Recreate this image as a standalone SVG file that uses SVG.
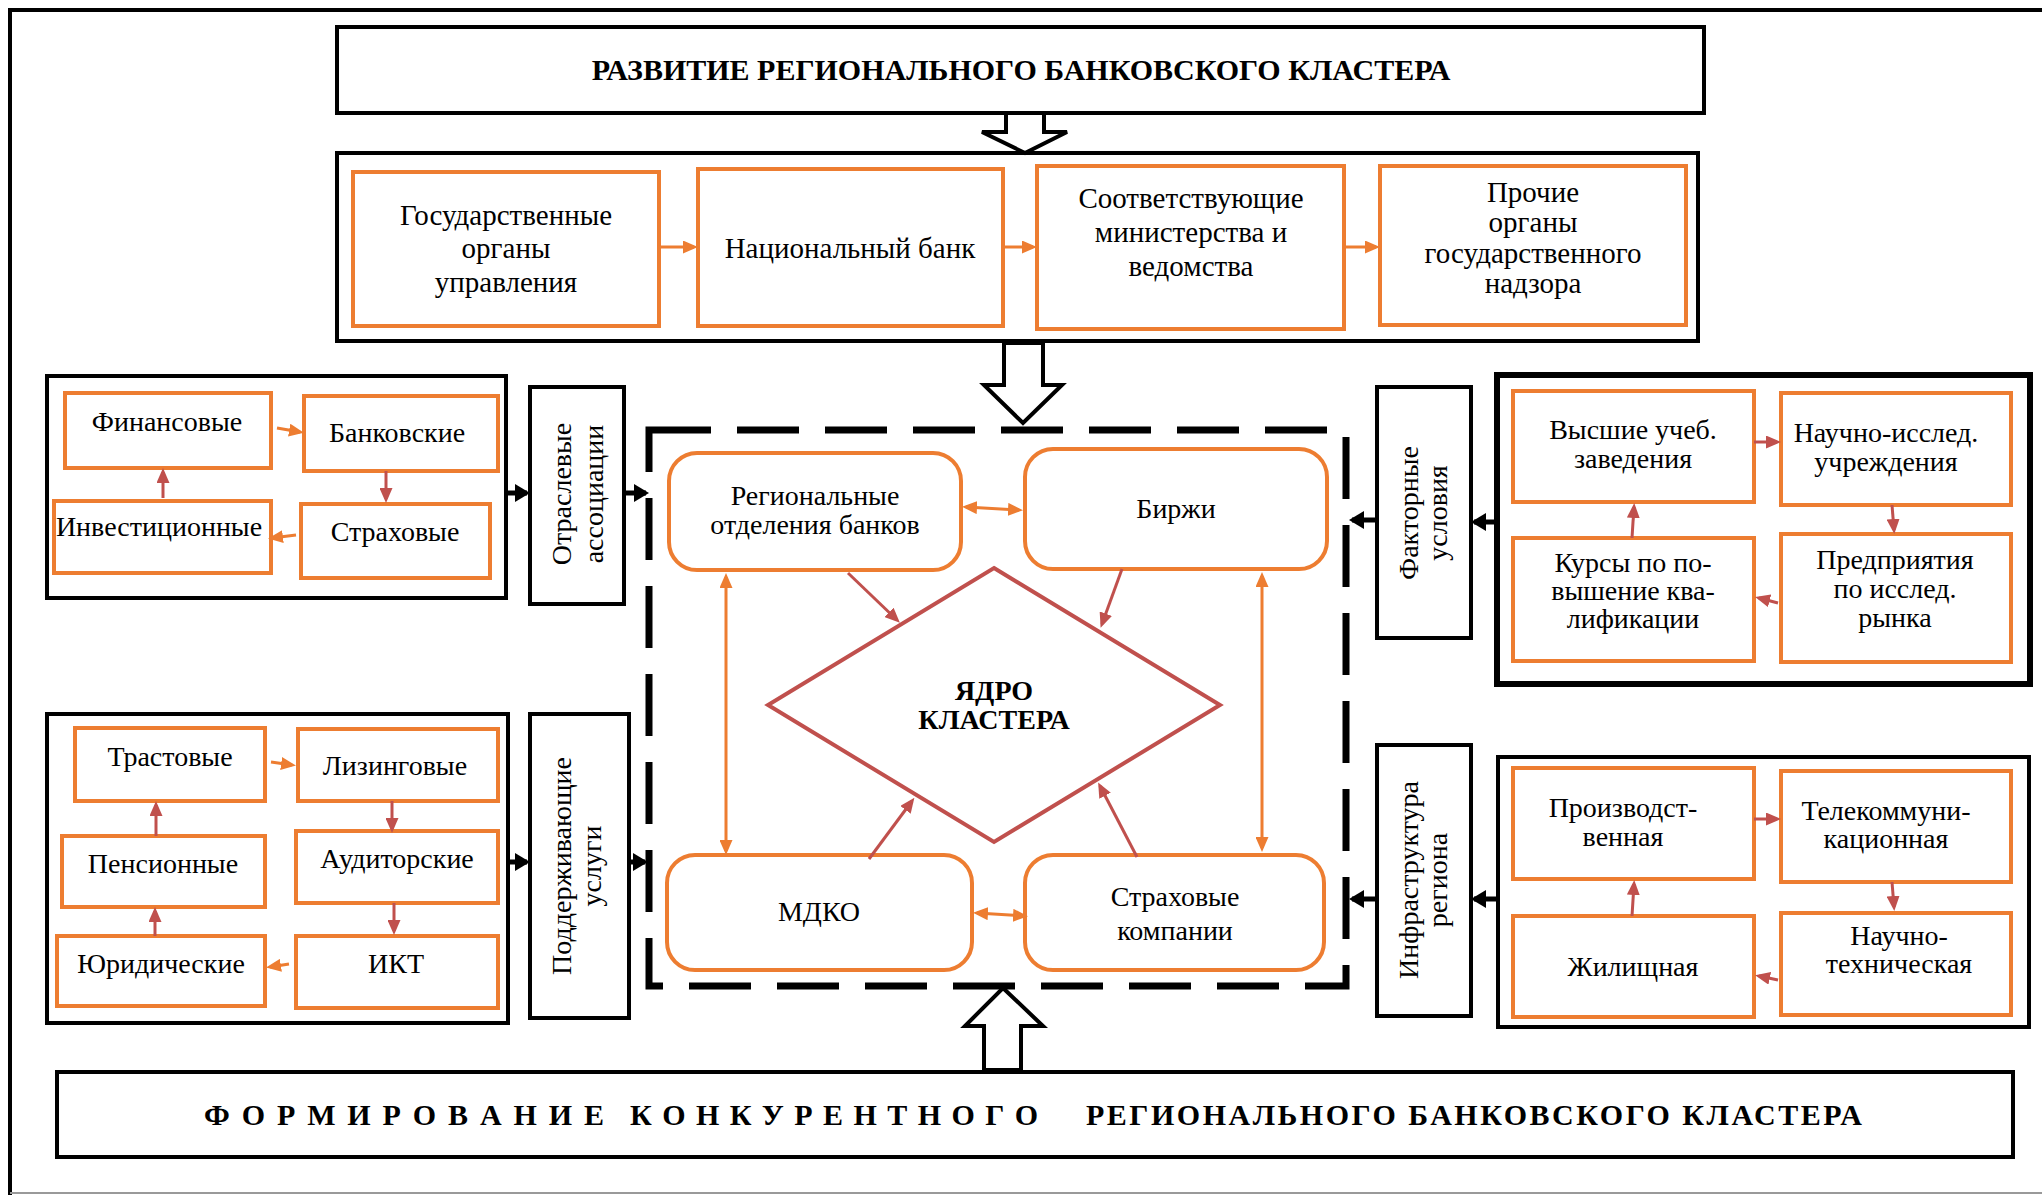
<svg xmlns="http://www.w3.org/2000/svg" width="2042" height="1195" viewBox="0 0 2042 1195">
<style>
text{font-family:"Liberation Serif","Times New Roman",serif;font-size:28px;fill:#000;text-anchor:middle}
.b{font-weight:bold}
.s29{font-size:29px}
.bt{font-weight:bold;font-size:30px;text-anchor:start}
.kbox{fill:#fff;stroke:#000;stroke-width:4}
.obox{fill:#fff;stroke:#ED7D31;stroke-width:4}
.ob{fill:none;stroke:#ED7D31;stroke-width:3}
.rb{fill:none;stroke:#C0504D;stroke-width:3}
.kb{fill:none;stroke:#000;stroke-width:5}
.hollow{fill:#fff;stroke:#000;stroke-width:4;stroke-linejoin:miter}
</style>
<defs>
<marker id="aO" markerUnits="userSpaceOnUse" markerWidth="15" markerHeight="13" refX="11" refY="6.5" orient="auto-start-reverse" viewBox="0 0 15 13"><path d="M0,0 L15,6.5 L0,13 z" fill="#ED7D31"/></marker>
<marker id="aR" markerUnits="userSpaceOnUse" markerWidth="15" markerHeight="13" refX="11" refY="6.5" orient="auto-start-reverse" viewBox="0 0 15 13"><path d="M0,0 L15,6.5 L0,13 z" fill="#C0504D"/></marker>
<marker id="aK" markerUnits="userSpaceOnUse" markerWidth="15" markerHeight="18" refX="12" refY="9" orient="auto" viewBox="0 0 15 18"><path d="M0,0 L15,9 L0,18 z" fill="#000"/></marker>
</defs>
<rect width="2042" height="1195" fill="#fff"/>
<g id="frame">
<path d="M10,1195 V10 H2042" fill="none" stroke="#000" stroke-width="4"/>
<line x1="10" y1="1193" x2="2042" y2="1193" stroke="#999" stroke-width="2"/>
</g>

<g id="title-top">
<rect class="kbox" x="337" y="27" width="1367" height="86"/>
<text class="b" x="1021" y="80" style="font-size:30px">РАЗВИТИЕ РЕГИОНАЛЬНОГО БАНКОВСКОГО КЛАСТЕРА</text>
</g>

<g id="gov-panel">
<rect class="kbox" x="337" y="153" width="1361" height="188"/>
</g>
<g id="gov-organs"><rect class="obox" x="353" y="172" width="306" height="154"/>
<text class="s29" x="506" y="225">Государственные</text><text class="s29" x="506" y="258">органы</text><text class="s29" x="506" y="292">управления</text></g>
<g id="natbank"><rect class="obox" x="698" y="169" width="305" height="157"/>
<text class="s29" x="850" y="258">Национальный банк</text></g>
<g id="ministries"><rect class="obox" x="1037" y="166" width="307" height="163"/>
<text class="s29" x="1191" y="208">Соответствующие</text><text class="s29" x="1191" y="242">министерства и</text><text class="s29" x="1191" y="276">ведомства</text></g>
<g id="other-organs"><rect class="obox" x="1380" y="166" width="306" height="159"/>
<text class="s29" x="1533" y="202">Прочие</text><text class="s29" x="1533" y="232">органы</text><text class="s29" x="1533" y="263">государственного</text><text class="s29" x="1533" y="293">надзора</text></g>

<g id="cluster-area">
<path d="M649,430 H1346 V986 H649 Z" fill="none" stroke="#000" stroke-width="7" stroke-dasharray="62 26"/>
</g>
<g id="reg-banks"><rect class="obox" x="669" y="453" width="292" height="117" rx="28"/>
<text x="815" y="505">Региональные</text><text x="815" y="534">отделения банков</text></g>
<g id="birzhi"><rect class="obox" x="1025" y="449" width="302" height="120" rx="28"/>
<text x="1176" y="518">Биржи</text></g>
<g id="mdko"><rect class="obox" x="667" y="855" width="305" height="115" rx="28"/>
<text x="819" y="921">МДКО</text></g>
<g id="insurance-co"><rect class="obox" x="1025" y="855" width="299" height="115" rx="28"/>
<text x="1175" y="906">Страховые</text><text x="1175" y="940">компании</text></g>
<g id="core"><polygon points="994,568 1220,705 994,842 768,705" fill="#fff" stroke="#C0504D" stroke-width="4"/>
<text class="b" x="994" y="700">ЯДРО</text><text class="b" x="994" y="729">КЛАСТЕРА</text></g>

<g id="fin-group"><rect class="kbox" x="47" y="376" width="459" height="222"/></g>
<g id="finansovye"><rect class="obox" x="65" y="393" width="206" height="75"/><text x="167" y="431">Финансовые</text></g>
<g id="bankovskie"><rect class="obox" x="304" y="396" width="194" height="75"/><text x="397" y="442">Банковские</text></g>
<g id="investicionnye"><rect class="obox" x="54" y="501" width="217" height="72"/><text x="159" y="536">Инвестиционные</text></g>
<g id="strahovye"><rect class="obox" x="301" y="504" width="189" height="74"/><text x="395" y="541">Страховые</text></g>
<g id="assoc"><rect class="kbox" x="530" y="387" width="94" height="217"/>
<text transform="translate(571,494) rotate(-90)">Отраслевые</text><text transform="translate(603,494) rotate(-90)">ассоциации</text></g>

<g id="serv-group"><rect class="kbox" x="47" y="714" width="461" height="309"/></g>
<g id="trastovye"><rect class="obox" x="75" y="728" width="190" height="73"/><text x="170" y="766">Трастовые</text></g>
<g id="lizingovye"><rect class="obox" x="298" y="729" width="200" height="72"/><text x="395" y="775">Лизинговые</text></g>
<g id="pensionnye"><rect class="obox" x="62" y="836" width="203" height="71"/><text x="163" y="873">Пенсионные</text></g>
<g id="auditorskie"><rect class="obox" x="296" y="831" width="202" height="72"/><text x="397" y="868">Аудиторские</text></g>
<g id="yuridicheskie"><rect class="obox" x="57" y="936" width="208" height="70"/><text x="161" y="973">Юридические</text></g>
<g id="ikt"><rect class="obox" x="296" y="936" width="202" height="72"/><text x="396" y="973">ИКТ</text></g>
<g id="support"><rect class="kbox" x="530" y="714" width="99" height="304"/>
<text transform="translate(571,866) rotate(-90)">Поддерживающие</text><text transform="translate(601,866) rotate(-90)">услуги</text></g>

<g id="factor"><rect class="kbox" x="1377" y="387" width="94" height="251"/>
<text transform="translate(1418,513) rotate(-90)">Факторные</text><text transform="translate(1447,513) rotate(-90)">условия</text></g>
<g id="edu-group"><rect class="kbox" x="1497" y="375" width="533" height="309" style="stroke-width:6"/></g>
<g id="vuz"><rect class="obox" x="1513" y="391" width="241" height="111"/><text x="1633" y="439">Высшие учеб.</text><text x="1633" y="468">заведения</text></g>
<g id="nii"><rect class="obox" x="1781" y="393" width="230" height="112"/><text x="1886" y="442">Научно-исслед.</text><text x="1886" y="471">учреждения</text></g>
<g id="kursy"><rect class="obox" x="1513" y="538" width="241" height="123"/><text x="1633" y="572">Курсы по по-</text><text x="1633" y="600">вышение ква-</text><text x="1633" y="628">лификации</text></g>
<g id="predpr"><rect class="obox" x="1781" y="534" width="230" height="128"/><text x="1895" y="569">Предприятия</text><text x="1895" y="598">по исслед.</text><text x="1895" y="627">рынка</text></g>

<g id="infra"><rect class="kbox" x="1377" y="745" width="94" height="271"/>
<text transform="translate(1418,880) rotate(-90)">Инфраструктура</text><text transform="translate(1447,880) rotate(-90)">региона</text></g>
<g id="infra-group"><rect class="kbox" x="1498" y="757" width="531" height="270"/></g>
<g id="proizv"><rect class="obox" x="1513" y="768" width="241" height="111"/><text x="1623" y="817">Производст-</text><text x="1623" y="846">венная</text></g>
<g id="telecom"><rect class="obox" x="1781" y="771" width="230" height="111"/><text x="1886" y="820">Телекоммуни-</text><text x="1886" y="848">кационная</text></g>
<g id="zhil"><rect class="obox" x="1513" y="916" width="241" height="101"/><text x="1633" y="976">Жилищная</text></g>
<g id="nauchtech"><rect class="obox" x="1781" y="913" width="230" height="102"/><text x="1899" y="945">Научно-</text><text x="1899" y="973">техническая</text></g>

<g id="title-bottom">
<rect class="kbox" x="57" y="1072" width="1956" height="85"/>
<text class="bt" x="204" y="1125" textLength="400" lengthAdjust="spacing">Ф О Р М И Р О В А Н И Е</text>
<text class="bt" x="630" y="1125" textLength="408" lengthAdjust="spacing">К О Н К У Р Е Н Т Н О Г О</text>
<text class="bt" x="1086" y="1125" textLength="776" lengthAdjust="spacing">РЕГИОНАЛЬНОГО БАНКОВСКОГО КЛАСТЕРА</text>
</g>

<g id="connectors">
<polygon class="hollow" points="1006,113 1044,113 1044,132 1067,132 1025,153 982,132 1006,132"/>
<polygon class="hollow" points="1004,343 1043,343 1043,385 1062,385 1023,423 984,385 1004,385"/>
<polygon class="hollow" points="1003,988 1043,1026 1021,1026 1021,1070 984,1070 984,1026 965,1026"/>
<line class="ob" x1="659" y1="247" x2="694" y2="247" marker-end="url(#aO)"/>
<line class="ob" x1="1003" y1="247" x2="1033" y2="247" marker-end="url(#aO)"/>
<line class="ob" x1="1344" y1="247" x2="1376" y2="247" marker-end="url(#aO)"/>
<line class="ob" x1="966" y1="507" x2="1019" y2="510" marker-start="url(#aO)" marker-end="url(#aO)"/>
<line class="rb" x1="848" y1="573" x2="897" y2="620" marker-end="url(#aR)"/>
<line class="rb" x1="1122" y1="569" x2="1102" y2="624" marker-end="url(#aR)"/>
<line class="ob" x1="726" y1="577" x2="726" y2="851" marker-start="url(#aO)" marker-end="url(#aO)"/>
<line class="ob" x1="1262" y1="576" x2="1262" y2="848" marker-start="url(#aO)" marker-end="url(#aO)"/>
<line class="rb" x1="869" y1="859" x2="912" y2="801" marker-end="url(#aR)"/>
<line class="rb" x1="1137" y1="857" x2="1100" y2="786" marker-end="url(#aR)"/>
<line class="ob" x1="977" y1="913" x2="1024" y2="916" marker-start="url(#aO)" marker-end="url(#aO)"/>
<line class="ob" x1="277" y1="428" x2="300" y2="432" marker-end="url(#aO)"/>
<line class="rb" x1="386" y1="471" x2="386" y2="499" marker-end="url(#aR)"/>
<line class="ob" x1="296" y1="535" x2="272" y2="538" marker-end="url(#aO)"/>
<line class="rb" x1="163" y1="498" x2="163" y2="472" marker-end="url(#aR)"/>
<line class="kb" x1="506" y1="493" x2="527" y2="493" marker-end="url(#aK)"/>
<line class="kb" x1="624" y1="493" x2="646" y2="493" marker-end="url(#aK)"/>
<line class="ob" x1="271" y1="762" x2="292" y2="765" marker-end="url(#aO)"/>
<line class="rb" x1="392" y1="801" x2="392" y2="829" marker-end="url(#aR)"/>
<line class="rb" x1="394" y1="903" x2="394" y2="931" marker-end="url(#aR)"/>
<line class="ob" x1="289" y1="964" x2="270" y2="967" marker-end="url(#aO)"/>
<line class="rb" x1="155" y1="936" x2="155" y2="911" marker-end="url(#aR)"/>
<line class="rb" x1="156" y1="836" x2="156" y2="805" marker-end="url(#aR)"/>
<line class="kb" x1="508" y1="862" x2="527" y2="862" marker-end="url(#aK)"/>
<line class="kb" x1="629" y1="862" x2="645" y2="862" marker-end="url(#aK)"/>
<line class="kb" x1="1497" y1="522" x2="1474" y2="522" marker-end="url(#aK)"/>
<line class="kb" x1="1377" y1="520" x2="1352" y2="520" marker-end="url(#aK)"/>
<line class="kb" x1="1498" y1="899" x2="1474" y2="899" marker-end="url(#aK)"/>
<line class="kb" x1="1377" y1="899" x2="1352" y2="899" marker-end="url(#aK)"/>
<line class="rb" x1="1754" y1="442" x2="1777" y2="442" marker-end="url(#aR)"/>
<line class="rb" x1="1892" y1="505" x2="1894" y2="530" marker-end="url(#aR)"/>
<line class="rb" x1="1778" y1="603" x2="1759" y2="598" marker-end="url(#aR)"/>
<line class="rb" x1="1632" y1="538" x2="1634" y2="507" marker-end="url(#aR)"/>
<line class="rb" x1="1754" y1="819" x2="1777" y2="819" marker-end="url(#aR)"/>
<line class="rb" x1="1892" y1="882" x2="1894" y2="907" marker-end="url(#aR)"/>
<line class="rb" x1="1778" y1="980" x2="1759" y2="976" marker-end="url(#aR)"/>
<line class="rb" x1="1632" y1="916" x2="1634" y2="884" marker-end="url(#aR)"/>
</g>
</svg>
